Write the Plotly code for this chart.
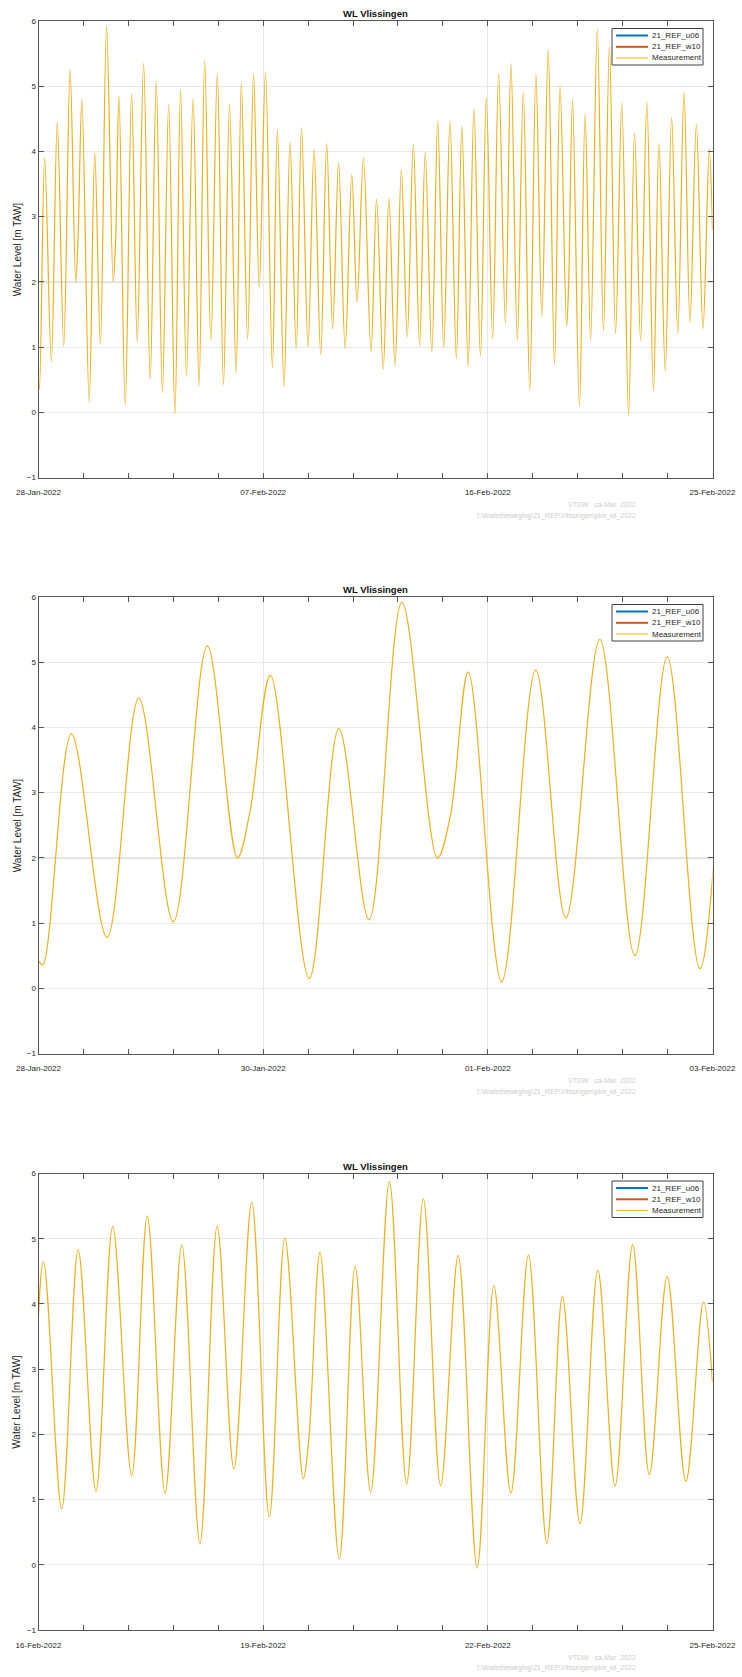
import pandas as pd
import plotly.graph_objects as go

# Measured water level at Vlissingen: high / low water turning points, plus a few
# points on the young-flood stand, given as hours after START.
START = pd.Timestamp("2022-01-28 08:00")
HOURS = [
    0.0, 0.8, 6.1, 12.7, 18.6, 25.0, 31.3, 36.9, 39.2, 43.0,
    50.2, 55.7, 61.3, 67.4, 74.0, 76.4, 79.7, 85.9, 92.2, 97.8,
    104.1, 110.6, 116.6, 122.7, 128.9, 135.1, 140.7, 146.5, 153.1, 159.0,
    164.6, 170.7, 177.1, 183.2, 189.2, 195.7, 200.9, 207.1, 213.0, 218.6,
    224.8, 231.6, 236.6, 243.1, 249.1, 255.2, 260.5, 267.0, 272.9, 279.5,
    285.4, 291.3, 297.2, 303.7, 310.3, 315.5, 321.8, 329.3, 334.8, 341.4,
    347.0, 353.1, 359.4, 365.2, 371.2, 377.4, 383.0, 389.5, 395.4, 401.3,
    407.5, 413.8, 419.3, 425.5, 431.2, 437.7, 443.5, 449.8, 455.7, 462.4,
    467.9, 474.2, 480.1, 486.5, 492.6, 498.5, 504.8, 511.0, 516.5, 523.0,
    525.0, 528.9, 535.7, 541.3, 546.8, 553.4, 559.5, 565.4, 571.5, 577.7,
    584.4, 590.3, 596.3, 602.5, 609.0, 614.5, 620.7, 627.0, 633.1, 639.3,
    645.2, 651.5, 658.1, 664.3, 667.5,
]
LEVELS = [
    0.42, 0.36, 3.90, 0.78, 4.45, 1.02, 5.25, 2.00, 2.70, 4.80,
    0.15, 3.98, 1.05, 5.92, 2.00, 2.65, 4.85, 0.10, 4.88, 1.08,
    5.35, 0.50, 5.08, 0.30, 4.72, -0.03, 4.95, 0.55, 4.82, 0.40,
    5.40, 1.10, 5.20, 0.42, 4.72, 0.60, 5.05, 1.12, 5.18, 1.92,
    5.22, 0.68, 4.34, 0.39, 4.14, 0.98, 4.36, 1.00, 4.03, 0.89,
    4.12, 1.28, 3.82, 0.98, 3.64, 1.69, 3.90, 0.93, 3.27, 0.66,
    3.28, 0.71, 3.72, 1.16, 4.11, 1.03, 3.98, 0.93, 4.47, 0.99,
    4.47, 0.82, 4.39, 0.70, 4.65, 0.86, 4.83, 1.13, 5.19, 1.37,
    5.35, 1.10, 4.90, 0.33, 5.19, 1.47, 5.56, 0.73, 5.01, 1.32,
    1.95, 4.79, 0.09, 4.58, 1.11, 5.88, 1.24, 5.61, 1.21, 4.74,
    -0.05, 4.28, 1.10, 4.75, 0.33, 4.12, 0.63, 4.52, 1.21, 4.91,
    1.38, 4.42, 1.28, 4.03, 2.80,
]

SERIES_NAMES = ["21_REF_u06", "21_REF_w10", "Measurement"]
SERIES_COLORS = ["#0072BD", "#D95319", "#EDB120"]
SERIES_WIDTHS = [2, 2, 1]

# time window of each panel (hours after START) and its date labels
WINDOWS = [(0.0, 667.5), (0.0, 125.0), (429.5, 667.5)]
TICK_LABELS = [
    ["28-Jan-2022", "07-Feb-2022", "16-Feb-2022", "25-Feb-2022"],
    ["28-Jan-2022", "30-Jan-2022", "01-Feb-2022", "03-Feb-2022"],
    ["16-Feb-2022", "19-Feb-2022", "22-Feb-2022", "25-Feb-2022"],
]
Y_RANGE = [-1, 6]
Y_TICKS = [-1, 0, 1, 2, 3, 4, 5, 6]
REF_LEVEL = 2.0
TITLE = "WL Vlissingen"
Y_TITLE = "Water Level [m TAW]"
FOOTER = ["VTDW   ca-Mar  2022", "t:\\Waterbeweging\\21_REF\\Vlissingen\\plot_wl_2022"]

# ---- page geometry (pixels) ----
W, H = 742, 1677
X0, X1 = 38.5, 712.5
TOPS = [21.0, 597.0, 1173.5]
PH = 456.5
FONT = "Liberation Sans, Arial, sans-serif"
AX_COLOR = "#555555"
TXT_COLOR = "#262626"

# legend box (absolute x, y offsets below each panel's top edge)
LEG_X0, LEG_X1 = 612.0, 703.0
LEG_DY0, LEG_DY1 = 7.5, 44.0
LEG_ROWS = [14.5, 25.8, 37.0]
LEG_LINE_X0, LEG_LINE_X1, LEG_TEXT_X = 616.0, 648.0, 650.0

times = START + pd.to_timedelta(pd.Series(HOURS), unit="h")


def px_x(x):
    return x / W


def px_y(y):
    return 1 - y / H


def stamp(h):
    return (START + pd.Timedelta(hours=h)).strftime("%Y-%m-%d %H:%M:%S")


fig = go.Figure()
layout = dict(
    width=W, height=H, autosize=False,
    margin=dict(l=0, r=0, t=0, b=0, pad=0),
    paper_bgcolor="white", plot_bgcolor="white",
    font=dict(family=FONT, size=8, color=TXT_COLOR),
    showlegend=False,
)
annotations = []
shapes = []

for i, ((h0, h1), labels, top) in enumerate(zip(WINDOWS, TICK_LABELS, TOPS), start=1):
    sfx = "" if i == 1 else str(i)
    xname, yname = f"x{sfx}", f"y{sfx}"
    bottom = top + PH

    span = h1 - h0
    major = [stamp(h0 + k * span / 3) for k in range(4)]
    minor = [stamp(h0 + k * span / 15) for k in range(16) if k % 5]

    layout[f"xaxis{sfx}"] = dict(
        domain=[px_x(X0), px_x(X1)], anchor=yname, type="date", automargin=False,
        range=[stamp(h0), stamp(h1)],
        tickmode="array", tickvals=major, ticktext=labels,
        ticks="inside", ticklen=5, tickwidth=1, tickcolor=AX_COLOR,
        ticklabelstandoff=7,
        showline=True, linecolor=AX_COLOR, linewidth=1, mirror="ticks",
        showgrid=True, gridcolor="#e8e8e8", gridwidth=1, zeroline=False,
        tickfont=dict(size=8, color=TXT_COLOR),
        minor=dict(tickmode="array", tickvals=minor, ticks="inside", ticklen=5,
                   tickwidth=1, tickcolor=AX_COLOR, showgrid=False),
    )
    layout[f"yaxis{sfx}"] = dict(
        domain=[px_y(bottom), px_y(top)], anchor=xname, automargin=False,
        range=Y_RANGE, tickmode="array", tickvals=Y_TICKS,
        ticks="inside", ticklen=5, tickwidth=1, tickcolor=AX_COLOR,
        showline=True, linecolor=AX_COLOR, linewidth=1, mirror="ticks",
        showgrid=True, gridcolor="#e8e8e8", gridwidth=1, zeroline=False,
        tickfont=dict(size=8, color=TXT_COLOR),
    )

    fig.add_trace(go.Scatter(
        x=times, y=LEVELS, mode="lines", name=SERIES_NAMES[2],
        line=dict(color=SERIES_COLORS[2], width=1.25, shape="spline", smoothing=1),
        xaxis=xname, yaxis=yname,
    ))

    shapes.append(dict(
        type="line", xref=f"{xname} domain", yref=yname,
        x0=0, x1=1, y0=REF_LEVEL, y1=REF_LEVEL,
        line=dict(color="#a8a8a8", width=1), layer="below",
    ))

    # legend: boxed list of the three series
    shapes.append(dict(
        type="rect", xref="paper", yref="paper",
        x0=px_x(LEG_X0), x1=px_x(LEG_X1), y0=px_y(top + LEG_DY1), y1=px_y(top + LEG_DY0),
        line=dict(color="#404040", width=1), fillcolor="white", layer="above",
    ))
    for name, color, lw, dy in zip(SERIES_NAMES, SERIES_COLORS, SERIES_WIDTHS, LEG_ROWS):
        shapes.append(dict(
            type="line", xref="paper", yref="paper",
            x0=px_x(LEG_LINE_X0), x1=px_x(LEG_LINE_X1),
            y0=px_y(top + dy), y1=px_y(top + dy),
            line=dict(color=color, width=lw), layer="above",
        ))
        annotations.append(dict(
            text=name, xref="paper", yref="paper",
            x=px_x(LEG_TEXT_X), y=px_y(top + dy), xanchor="left", yanchor="middle",
            showarrow=False, font=dict(size=8, color=TXT_COLOR, family=FONT),
        ))

    annotations.append(dict(
        text=f"<b>{TITLE}</b>", xref="paper", yref="paper",
        x=(X0 + X1) / 2 / W, y=px_y(top - 7.5), xanchor="center", yanchor="middle",
        showarrow=False, font=dict(size=9.5, color="#111111", family=FONT),
    ))
    annotations.append(dict(
        text=Y_TITLE, xref="paper", yref="paper", textangle=-90,
        x=px_x(17), y=px_y(top + PH / 2), xanchor="center", yanchor="middle",
        showarrow=False, font=dict(size=10, color=TXT_COLOR, family=FONT),
    ))
    for k, line in enumerate(FOOTER):
        annotations.append(dict(
            text=line, xref="paper", yref="paper",
            x=px_x(638), y=px_y(bottom + 27 + 11 * k), xanchor="right", yanchor="middle",
            showarrow=False, font=dict(size=7, color="#cccccc", family=FONT),
        ))

layout["annotations"] = annotations
layout["shapes"] = shapes
fig.update_layout(**layout)
fig.write_html("out.html")
